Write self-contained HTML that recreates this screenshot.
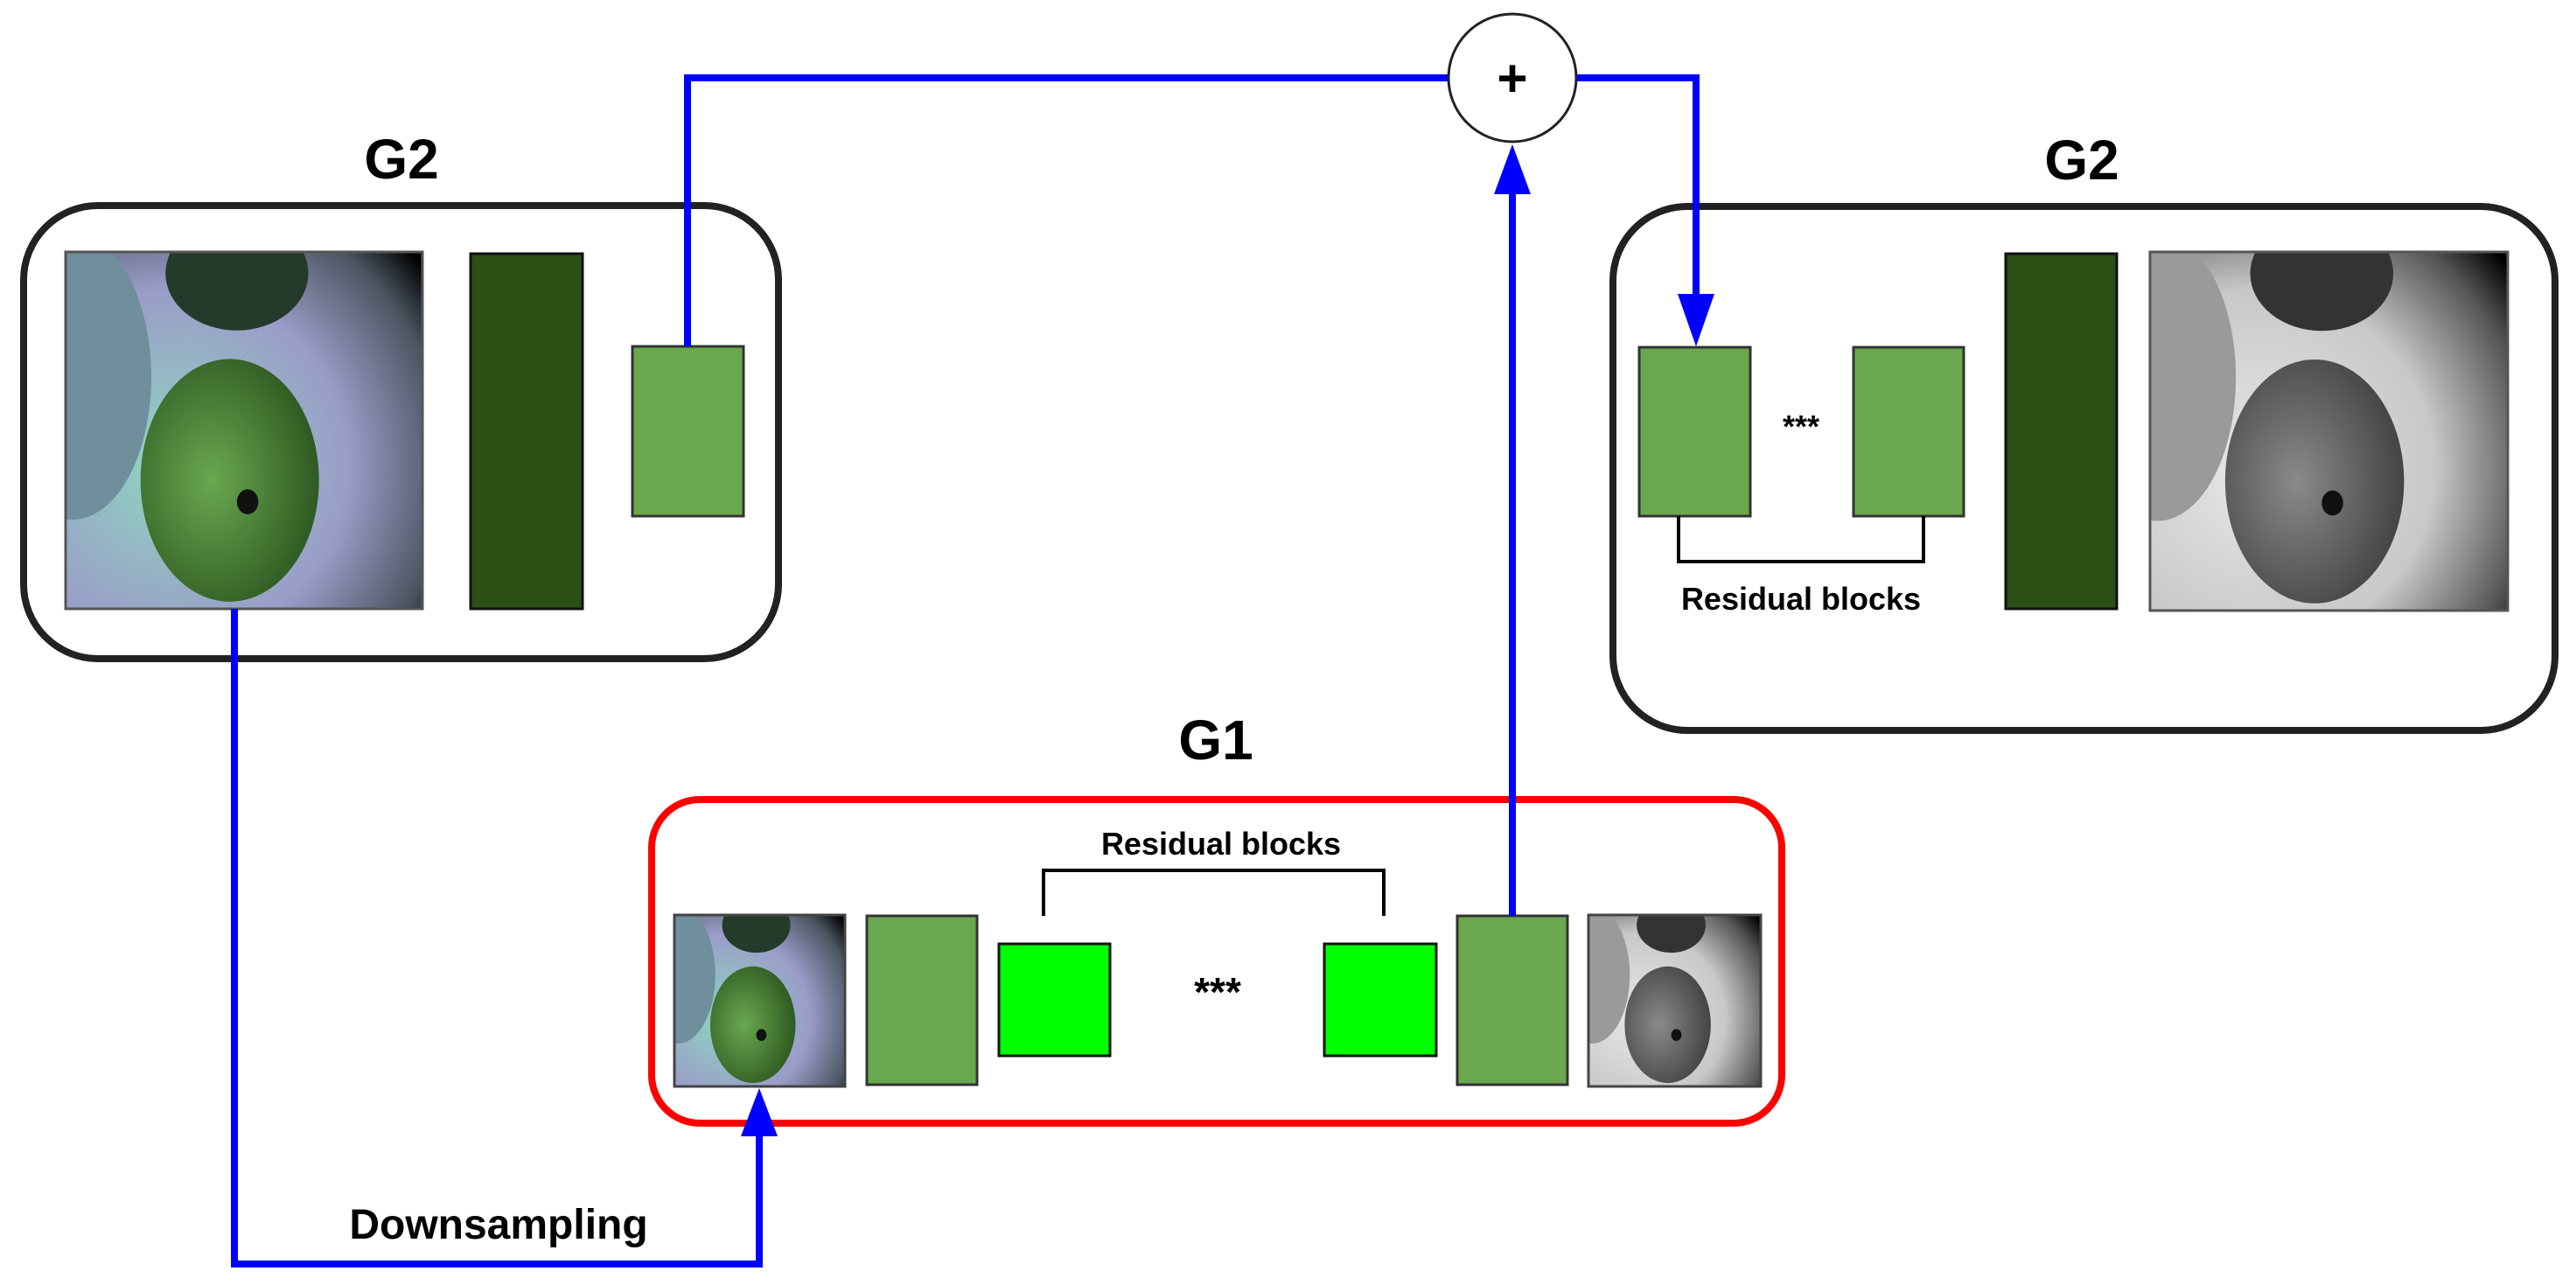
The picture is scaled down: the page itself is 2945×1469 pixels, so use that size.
<!DOCTYPE html>
<html><head><meta charset="utf-8"><style>
html,body{margin:0;padding:0;background:#fff}
svg{display:block}
text{font-family:"Liberation Sans",Arial,sans-serif;font-weight:bold;fill:#000}
</style></head><body>
<svg width="2945" height="1469" viewBox="0 0 2945 1469" xmlns="http://www.w3.org/2000/svg">
<defs>
<radialGradient id="bgc" cx="0.3" cy="0.6" r="0.9">
<stop offset="0" stop-color="#8fd6c0"/><stop offset="0.55" stop-color="#9a9cc8"/><stop offset="0.85" stop-color="#4a5560"/><stop offset="1" stop-color="#000"/>
</radialGradient>
<radialGradient id="bgg" cx="0.3" cy="0.6" r="0.9">
<stop offset="0" stop-color="#e8e8e8"/><stop offset="0.55" stop-color="#c8c8c8"/><stop offset="0.85" stop-color="#555"/><stop offset="1" stop-color="#000"/>
</radialGradient>
<radialGradient id="apc" cx="0.4" cy="0.5" r="0.6">
<stop offset="0" stop-color="#6aa84f"/><stop offset="1" stop-color="#2e5a22"/>
</radialGradient>
<radialGradient id="apg" cx="0.4" cy="0.5" r="0.6">
<stop offset="0" stop-color="#8a8a8a"/><stop offset="1" stop-color="#444"/>
</radialGradient>
<symbol id="photoC" viewBox="0 0 100 100" preserveAspectRatio="none">
<rect width="100" height="100" fill="url(#bgc)"/>
<ellipse cx="2" cy="35" rx="22" ry="40" fill="#6f8f9c"/>
<ellipse cx="48" cy="6" rx="20" ry="16" fill="#243a2a"/>
<ellipse cx="46" cy="64" rx="25" ry="34" fill="url(#apc)"/>
<ellipse cx="51" cy="70" rx="3" ry="3.5" fill="#111"/>
</symbol>
<symbol id="photoG" viewBox="0 0 100 100" preserveAspectRatio="none">
<rect width="100" height="100" fill="url(#bgg)"/>
<ellipse cx="2" cy="35" rx="22" ry="40" fill="#9a9a9a"/>
<ellipse cx="48" cy="6" rx="20" ry="16" fill="#333"/>
<ellipse cx="46" cy="64" rx="25" ry="34" fill="url(#apg)"/>
<ellipse cx="51" cy="70" rx="3" ry="3.5" fill="#111"/>
</symbol>
</defs>

<!-- Left G2 -->
<text x="459" y="204" font-size="64" text-anchor="middle">G2</text>
<rect x="27" y="235" width="863" height="518" rx="85" fill="none" stroke="#222" stroke-width="8"/>
<use href="#photoC" x="75" y="288" width="408" height="408"/>
<rect x="75" y="288" width="408" height="408" fill="none" stroke="#555" stroke-width="3"/>
<rect x="538" y="290" width="128" height="406" fill="#2a5016" stroke="#111" stroke-width="3"/>
<rect x="723" y="396" width="127" height="194" fill="#6aa84f" stroke="#333" stroke-width="3"/>

<!-- Right G2 -->
<text x="2380" y="205" font-size="64" text-anchor="middle">G2</text>
<rect x="1844" y="236" width="1077" height="599" rx="85" fill="none" stroke="#222" stroke-width="8"/>
<rect x="1874" y="397" width="127" height="193" fill="#6aa84f" stroke="#333" stroke-width="3"/>
<rect x="2119" y="397" width="126" height="193" fill="#6aa84f" stroke="#333" stroke-width="3"/>
<text x="2059" y="500" font-size="36" text-anchor="middle" font-weight="normal">***</text>
<path d="M1919 590 V642 H2199 V590" fill="none" stroke="#000" stroke-width="4"/>
<text x="2059" y="697" font-size="36" text-anchor="middle">Residual blocks</text>
<rect x="2293" y="290" width="127" height="406" fill="#2a5016" stroke="#111" stroke-width="3"/>
<use href="#photoG" x="2458" y="288" width="409" height="410"/>
<rect x="2458" y="288" width="409" height="410" fill="none" stroke="#555" stroke-width="3"/>

<!-- G1 -->
<text x="1390" y="868" font-size="64" text-anchor="middle">G1</text>
<rect x="745" y="914" width="1292" height="370" rx="55" fill="none" stroke="#f00" stroke-width="8"/>
<text x="1396" y="977" font-size="36" text-anchor="middle">Residual blocks</text>
<path d="M1193 1047 V995 H1582 V1047" fill="none" stroke="#000" stroke-width="4"/>
<use href="#photoC" x="771" y="1046" width="195" height="196"/>
<rect x="771" y="1046" width="195" height="196" fill="none" stroke="#444" stroke-width="3"/>
<rect x="991" y="1047" width="126" height="193" fill="#6aa84f" stroke="#333" stroke-width="3"/>
<rect x="1142" y="1079" width="127" height="128" fill="#00ff00" stroke="#111" stroke-width="3"/>
<text x="1392" y="1150" font-size="46" text-anchor="middle" font-weight="normal">***</text>
<rect x="1514" y="1079" width="128" height="128" fill="#00ff00" stroke="#111" stroke-width="3"/>
<rect x="1666" y="1047" width="126" height="193" fill="#6aa84f" stroke="#333" stroke-width="3"/>
<use href="#photoG" x="1816" y="1046" width="197" height="196"/>
<rect x="1816" y="1046" width="197" height="196" fill="none" stroke="#444" stroke-width="3"/>

<!-- connectors -->
<g fill="none" stroke="#0000ff" stroke-width="8">
<path d="M786 396 V89 H1656"/>
<path d="M1802 89 H1939 V340"/>
<path d="M1729 1047 V218"/>
<path d="M268 696 V1445 H868 V1295"/>
</g>
<g fill="#0000ff">
<polygon points="1918,336 1960,336 1939,396"/>
<polygon points="1708,222 1750,222 1729,165"/>
<polygon points="847,1299 889,1299 868,1244"/>
</g>
<text x="570" y="1416" font-size="48" text-anchor="middle">Downsampling</text>

<circle cx="1729" cy="89" r="73" fill="#fff" stroke="#222" stroke-width="3"/>
<text x="1729" y="110" font-size="60" text-anchor="middle" font-weight="normal">+</text>
</svg>
</body></html>
